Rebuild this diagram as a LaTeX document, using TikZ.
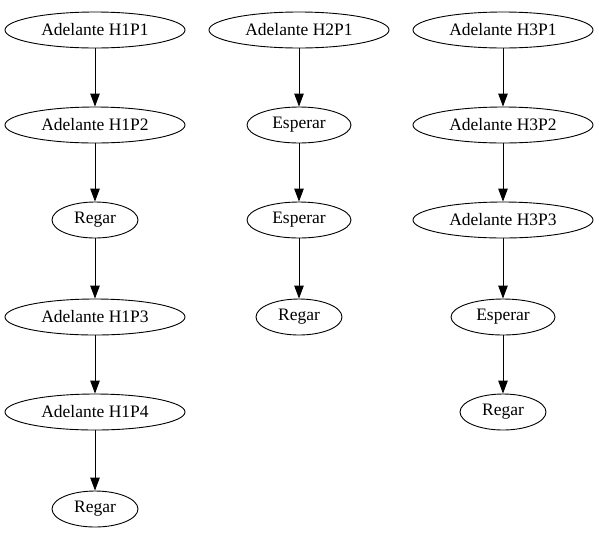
\documentclass[tikz,border=0pt]{standalone}
\usepackage{fontspec}
\setmainfont{Liberation Serif}
\usetikzlibrary{shapes.geometric,arrows.meta}

\tikzset{
  paso/.style={draw,ellipse,line width=0.9pt,inner sep=0pt,minimum height=36pt,font=\fontsize{17.5pt}{20pt}\selectfont},
  largo/.style={paso,minimum width=180pt},
  regar/.style={paso,minimum width=86pt},
  esperar/.style={paso,minimum width=104pt},
  flecha/.style={-{Triangle[length=13pt,width=9.5pt]},line width=0.9pt}
}

\begin{document}
\begin{tikzpicture}[x=1pt,y=-1pt]
\useasboundingbox (0,0) rectangle (599,539);

% first column
\node[largo] (a1) at (95,30) {Adelante H1P1};
\node[largo] (a2) at (95,125) {Adelante H1P2};
\node[regar] (a3) at (95,220) {Regar};
\node[largo] (a4) at (95,317) {Adelante H1P3};
\node[largo] (a5) at (95,412) {Adelante H1P4};
\node[regar] (a6) at (95,509) {Regar};

% second column
\node[largo] (b1) at (299,30) {Adelante H2P1};
\node[esperar] (b2) at (299,125) {Esperar};
\node[esperar] (b3) at (299,220) {Esperar};
\node[regar] (b4) at (299,317) {Regar};

% third column
\node[largo] (c1) at (503,30) {Adelante H3P1};
\node[largo] (c2) at (503,125) {Adelante H3P2};
\node[largo] (c3) at (503,220) {Adelante H3P3};
\node[esperar] (c4) at (503,317) {Esperar};
\node[regar] (c5) at (503,412) {Regar};

% connect each step to the next one
\foreach \x/\y in {a1/a2,a2/a3,a3/a4,a4/a5,a5/a6,b1/b2,b2/b3,b3/b4,c1/c2,c2/c3,c3/c4,c4/c5}
  \draw[flecha] (\x) -- (\y);

\end{tikzpicture}
\end{document}
